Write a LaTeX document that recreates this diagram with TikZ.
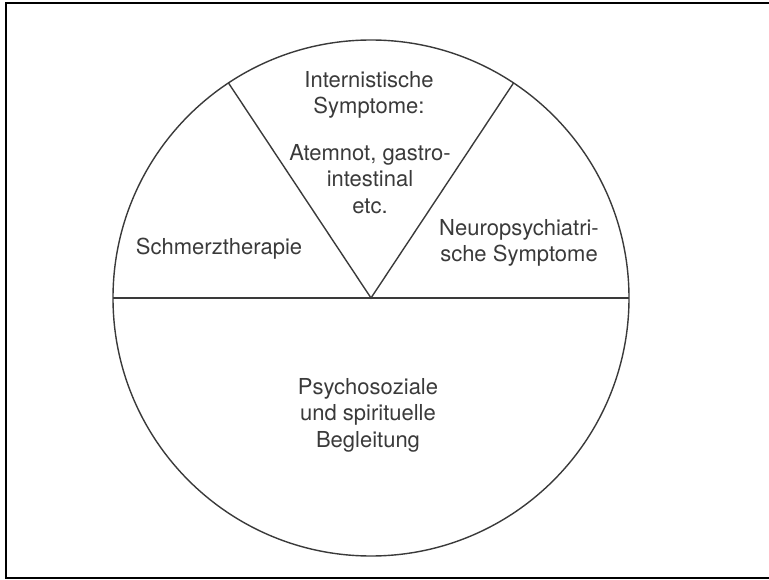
\documentclass[tikz,border=0pt]{standalone}
\usepackage{fontspec}
\setmainfont{TeX Gyre Heros}
\definecolor{ink}{HTML}{3A3A3A}

\begin{document}
\begin{tikzpicture}[x=1pt, y=-1pt,
    part/.style={align=center, text=ink, inner sep=0pt, font=\fontsize{22}{26.5}\selectfont},
    rim/.style={draw=ink, line width=1.4pt}]
    \useasboundingbox (0,0) rectangle (769,580);
    % frame, open on the right
    \draw[line width=2.2pt] (769,3) -- (6,3) -- (6,578) -- (769,578);
    \coordinate (m) at (371,298);
    \coordinate (vl) at (228.5,83);
    \coordinate (vr) at (513.5,83);
    \coordinate (hl) at (113,298);
    \coordinate (hr) at (629,298);
    \draw[rim] (m) circle[radius=258];
    \draw[rim, line width=1.8pt] (hl) -- (hr);
    \draw[rim] (vl) -- (m) -- (vr);
    \node[part] (intern) at (369,95) {Internistische\\Symptome:};
    \node[part] (atem) at (370,179) {Atemnot, gastro-\\intestinal\\etc.};
    \node[part] (schmerz) at (219,249) {Schmerztherapie};
    \node[part] (neuro) at (519,243) {Neuropsychiatri-\\sche Symptome};
    \node[part] (psycho) at (368,415) {Psychosoziale\\und spirituelle\\Begleitung};
\end{tikzpicture}
\end{document}
